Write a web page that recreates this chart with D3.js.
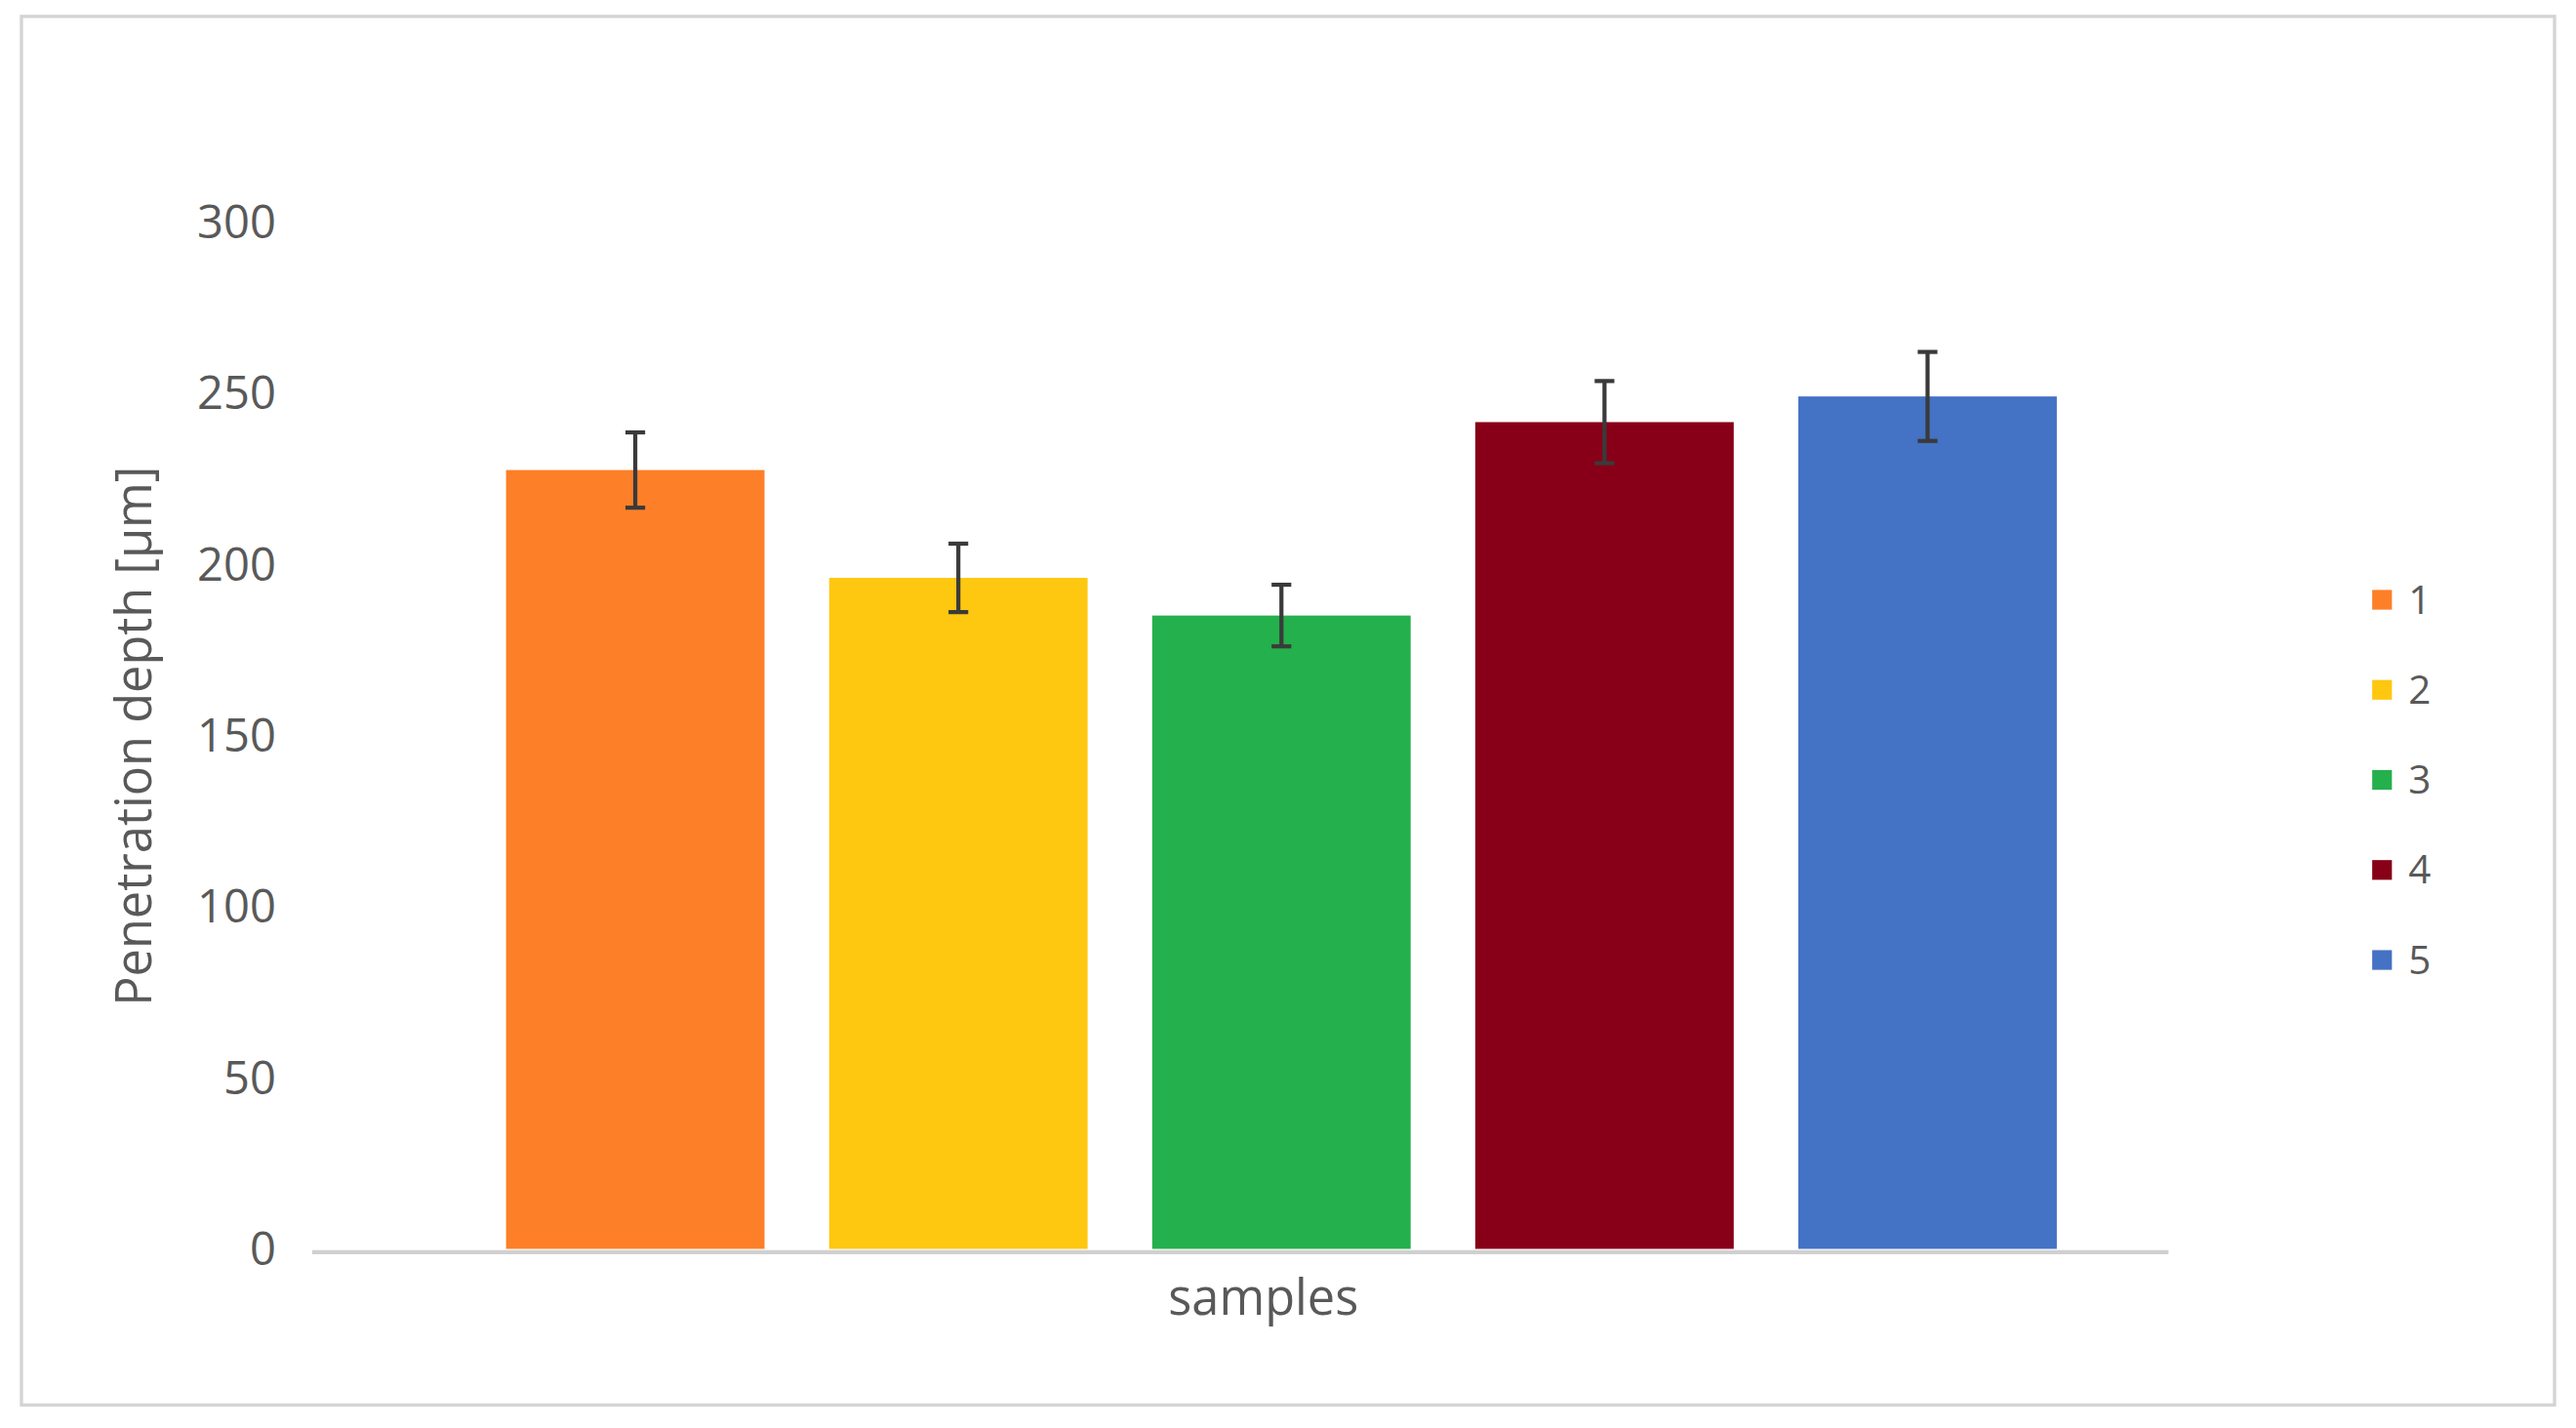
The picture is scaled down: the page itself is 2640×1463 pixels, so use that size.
<!DOCTYPE html>
<html>
<head>
<style>
body { margin: 0; background: #fff; }
svg { display: block; }
</style>
</head>
<body>
<svg id="chart" width="2640" height="1463" viewBox="0 0 1568 869"></svg>
<script src="https://cdn.jsdelivr.net/npm/d3@7"></script>
<script>
// data
var categories = ['1', '2', '3', '4', '5'];
var values = [227.5, 196, 185, 241.5, 249];
var errors = [11, 10, 9, 12, 13];
var colors = ['#fd7f28', '#fec710', '#24b04c', '#870017', '#4472c4'];
var yTicks = [0, 50, 100, 150, 200, 250, 300];

var svg = d3.select('#chart');
var font = 'Open Sans, Liberation Sans, sans-serif';

svg.append('rect').attr('x', 13).attr('y', 10).attr('width', 1542).attr('height', 845)
    .attr('fill', 'white').attr('stroke', '#d4d4d4').attr('stroke-width', 2);

var x = d3.scaleBand().domain(categories).range([308, 1252]).paddingInner(0.2);
var y = d3.scaleLinear().domain([0, 300]).range([760, 135]);

// y tick labels
svg.selectAll('text.tick').data(yTicks).enter().append('text')
    .attr('class', 'tick')
    .attr('x', 168).attr('y', function(d) { return y(d); })
    .attr('dy', '0.35em').attr('text-anchor', 'end')
    .attr('font-family', font).attr('font-size', 28).attr('fill', '#595959')
    .text(function(d) { return d; });

// bars
svg.selectAll('rect.bar').data(values).enter().append('rect')
    .attr('class', 'bar')
    .attr('x', function(d, i) { return x(categories[i]); })
    .attr('width', x.bandwidth())
    .attr('y', function(d) { return y(d); })
    .attr('height', function(d) { return y(0) - y(d); })
    .attr('fill', function(d, i) { return colors[i]; });

// x axis line
svg.append('line').attr('x1', 190).attr('x2', 1320).attr('y1', 762).attr('y2', 762)
    .attr('stroke', '#d0d0d0').attr('stroke-width', 2.5);

// error bars
var eb = svg.selectAll('g.err').data(values).enter().append('g').attr('class', 'err')
    .attr('stroke', '#3a3a3a').attr('stroke-width', 2.5);
eb.append('line')
    .attr('x1', function(d, i) { return x(categories[i]) + x.bandwidth() / 2; })
    .attr('x2', function(d, i) { return x(categories[i]) + x.bandwidth() / 2; })
    .attr('y1', function(d, i) { return y(d + errors[i]); })
    .attr('y2', function(d, i) { return y(d - errors[i]); });
[1, -1].forEach(function(s) {
    eb.append('line')
        .attr('x1', function(d, i) { return x(categories[i]) + x.bandwidth() / 2 - 6; })
        .attr('x2', function(d, i) { return x(categories[i]) + x.bandwidth() / 2 + 6; })
        .attr('y1', function(d, i) { return y(d + s * errors[i]); })
        .attr('y2', function(d, i) { return y(d + s * errors[i]); });
});

// axis titles
svg.append('text').attr('transform', 'translate(92,448) rotate(-90)')
    .attr('text-anchor', 'middle').attr('font-family', font).attr('font-size', 30)
    .attr('fill', '#595959').text('Penetration depth [\u00b5m]');
svg.append('text').attr('x', 769).attr('y', 800).attr('text-anchor', 'middle')
    .attr('font-family', font).attr('font-size', 30).attr('fill', '#595959').text('samples');

// legend
var lg = svg.selectAll('g.leg').data(categories).enter().append('g').attr('class', 'leg')
    .attr('transform', function(d, i) { return 'translate(1444,' + (365 + i * 54.8) + ')'; });
lg.append('rect').attr('x', 0).attr('y', -6).attr('width', 12).attr('height', 12)
    .attr('fill', function(d, i) { return colors[i]; });
lg.append('text').attr('x', 22).attr('dy', '0.35em').attr('font-family', font)
    .attr('font-size', 24).attr('fill', '#595959').text(function(d) { return d; });
</script>
</body>
</html>
